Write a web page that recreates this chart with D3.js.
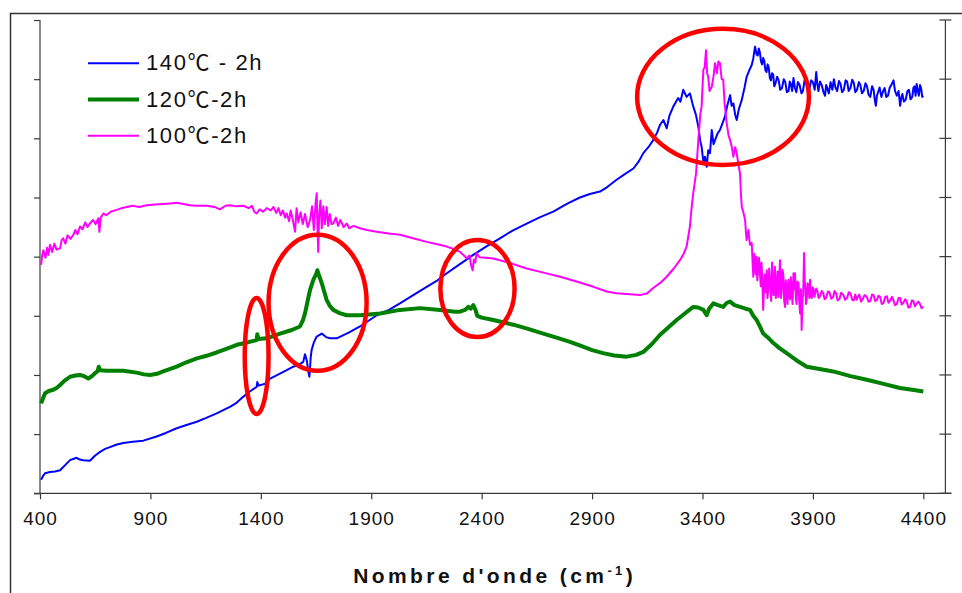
<!DOCTYPE html>
<html><head><meta charset="utf-8">
<script src="https://cdn.jsdelivr.net/npm/d3@7"></script>
<style>html,body{margin:0;padding:0;background:#fff;}svg{display:block;}</style>
</head><body>
<svg id="c" width="962" height="593"></svg>
<script>
// ---- data (wavenumber cm-1, relative intensity in arbitrary units) ----
const xTicks = [400, 900, 1400, 1900, 2400, 2900, 3400, 3900, 4400];
const yTicks = [0, 1, 2, 3, 4, 5, 6, 7, 8];
const seriesNames = ["140\u2103 - 2h", "120\u2103-2h", "100\u2103-2h"];
const seriesColors = ["#0000ff", "#008000", "#ff00ff"];

const blue140 = [[405,0.23],[415,0.30],[423,0.34],[445,0.36],[468,0.37],[491,0.39],[515,0.48],[536,0.56],[550,0.58],[566,0.60],[580,0.57],[596,0.56],[626,0.55],[650,0.64],[672,0.70],[695,0.75],[717,0.78],[745,0.82],[777,0.85],[820,0.87],[868,0.89],[928,0.96],[970,1.02],[1019,1.10],[1060,1.15],[1110,1.21],[1150,1.27],[1200,1.35],[1260,1.46],[1290,1.53],[1320,1.63],[1350,1.72],[1381,1.80],[1384,1.88],[1390,1.82],[1427,1.86],[1442,1.94],[1500,2.05],[1547,2.14],[1575,2.18],[1592,2.22],[1600,2.35],[1608,2.25],[1614,2.08],[1620,1.97],[1626,2.30],[1630,2.42],[1640,2.55],[1653,2.65],[1676,2.70],[1695,2.64],[1713,2.62],[1744,2.62],[1800,2.72],[1849,2.82],[1925,3.01],[1980,3.10],[2030,3.21],[2090,3.35],[2151,3.49],[2200,3.60],[2242,3.72],[2300,3.87],[2362,4.03],[2420,4.17],[2483,4.31],[2540,4.44],[2604,4.56],[2660,4.66],[2724,4.76],[2790,4.90],[2845,5.00],[2890,5.06],[2936,5.10],[2970,5.18],[3011,5.30],[3050,5.40],[3087,5.49],[3110,5.60],[3132,5.75],[3155,5.85],[3177,5.97],[3195,6.10],[3208,6.23],[3223,6.31],[3238,6.17],[3250,6.38],[3268,6.54],[3290,6.68],[3300,6.62],[3313,6.82],[3328,6.70],[3343,6.76],[3358,6.54],[3370,6.40],[3381,6.20],[3390,5.95],[3396,5.86],[3404,5.60],[3411,5.69],[3419,5.52],[3426,5.80],[3434,5.75],[3442,6.14],[3450,5.90],[3457,5.97],[3468,6.08],[3479,6.14],[3490,6.25],[3502,6.37],[3512,6.55],[3525,6.73],[3532,6.55],[3540,6.59],[3548,6.40],[3555,6.31],[3565,6.50],[3578,6.65],[3590,6.85],[3600,7.04],[3612,7.15],[3623,7.24],[3630,7.35],[3638,7.55],[3645,7.42],[3650,7.40],[3655,7.52],[3660,7.45],[3665,7.30],[3670,7.25],[3675,7.36],[3680,7.30],[3685,7.15],[3690,7.12],[3695,7.25],[3700,7.20],[3705,7.02],[3710,6.98],[3715,7.10],[3720,7.08],[3725,6.88],[3730,6.92],[3738,7.04],[3745,6.98],[3752,6.82],[3760,6.85],[3768,7.00],[3775,6.95],[3782,6.78],[3790,6.80],[3795,6.96],[3800,6.92],[3806,6.80],[3812,7.02],[3818,6.86],[3825,6.78],[3832,6.95],[3840,6.90],[3848,6.76],[3855,6.80],[3862,6.98],[3870,6.95],[3877,6.78],[3885,6.85],[3892,6.98],[3900,6.95],[3908,6.82],[3915,7.12],[3920,6.92],[3925,6.80],[3932,6.96],[3940,6.90],[3948,6.78],[3955,6.72],[3960,6.90],[3965,6.85],[3972,6.76],[3980,6.95],[3988,6.82],[3995,7.00],[4002,6.86],[4010,6.80],[4018,6.97],[4025,6.92],[4032,6.78],[4040,6.82],[4048,6.98],[4055,6.96],[4062,6.80],[4070,6.85],[4078,6.99],[4085,6.94],[4092,6.78],[4100,6.82],[4108,6.95],[4115,6.90],[4122,6.76],[4130,6.80],[4138,6.93],[4145,6.88],[4152,6.74],[4160,6.70],[4168,6.88],[4175,6.82],[4180,6.66],[4185,6.55],[4190,6.72],[4195,6.78],[4202,6.86],[4210,6.70],[4218,6.80],[4225,6.85],[4232,6.70],[4240,6.72],[4248,6.86],[4255,6.90],[4265,6.98],[4272,6.80],[4280,6.72],[4288,6.80],[4295,6.55],[4300,6.68],[4305,6.75],[4312,6.62],[4320,6.65],[4328,6.80],[4335,6.82],[4342,6.66],[4350,6.70],[4355,6.85],[4360,6.88],[4365,6.72],[4370,6.92],[4375,6.80],[4380,6.72],[4385,6.90],[4390,6.85],[4395,6.70],[4400,6.72]];

const green120 = [[405,1.52],[415,1.62],[423,1.69],[440,1.73],[460,1.75],[475,1.78],[491,1.83],[510,1.90],[536,1.97],[560,1.99],[581,2.00],[600,1.98],[619,1.94],[635,1.98],[649,2.03],[660,2.06],[666,2.14],[672,2.08],[702,2.07],[740,2.07],[777,2.07],[838,2.04],[870,2.01],[898,2.00],[930,2.02],[958,2.06],[1019,2.14],[1060,2.21],[1110,2.28],[1150,2.32],[1200,2.38],[1250,2.45],[1291,2.51],[1340,2.55],[1381,2.59],[1384,2.69],[1388,2.61],[1427,2.62],[1487,2.70],[1540,2.76],[1577,2.82],[1590,2.92],[1600,3.04],[1612,3.25],[1623,3.44],[1638,3.61],[1650,3.70],[1656,3.77],[1662,3.70],[1676,3.55],[1698,3.27],[1712,3.17],[1728,3.10],[1760,3.04],[1789,3.01],[1849,3.01],[1940,3.04],[2030,3.10],[2121,3.13],[2211,3.10],[2280,3.07],[2302,3.07],[2325,3.10],[2339,3.15],[2350,3.12],[2362,3.18],[2372,3.10],[2380,3.00],[2400,2.97],[2453,2.93],[2543,2.85],[2610,2.78],[2679,2.70],[2750,2.62],[2800,2.56],[2850,2.49],[2900,2.42],[2950,2.37],[3000,2.33],[3057,2.31],[3100,2.34],[3132,2.39],[3170,2.52],[3208,2.68],[3250,2.82],[3283,2.93],[3320,3.04],[3358,3.15],[3380,3.14],[3404,3.10],[3419,3.01],[3430,3.12],[3449,3.21],[3470,3.18],[3494,3.15],[3510,3.22],[3525,3.24],[3545,3.18],[3570,3.15],[3595,3.12],[3615,3.10],[3630,3.00],[3645,2.93],[3660,2.82],[3675,2.70],[3700,2.62],[3721,2.54],[3750,2.45],[3781,2.37],[3825,2.25],[3872,2.14],[3930,2.10],[3992,2.06],[4070,1.98],[4144,1.92],[4220,1.85],[4294,1.78],[4350,1.75],[4400,1.72]];

const magenta100 = [[405,3.86],[410,4.02],[415,4.11],[425,3.98],[432,4.15],[438,4.03],[445,4.20],[455,4.08],[465,4.22],[475,4.12],[491,4.14],[498,4.28],[505,4.31],[515,4.22],[525,4.36],[538,4.30],[551,4.37],[560,4.45],[570,4.38],[581,4.51],[592,4.46],[605,4.58],[615,4.50],[626,4.56],[640,4.62],[652,4.55],[664,4.65],[669,4.42],[675,4.66],[687,4.73],[700,4.70],[720,4.76],[747,4.79],[770,4.82],[793,4.84],[820,4.86],[850,4.84],[883,4.87],[920,4.88],[958,4.89],[990,4.90],[1019,4.91],[1050,4.89],[1079,4.87],[1110,4.86],[1155,4.86],[1190,4.84],[1215,4.80],[1240,4.86],[1260,4.87],[1290,4.85],[1321,4.86],[1345,4.82],[1360,4.86],[1370,4.76],[1381,4.73],[1395,4.80],[1410,4.76],[1427,4.82],[1445,4.78],[1457,4.84],[1470,4.74],[1480,4.82],[1490,4.70],[1500,4.78],[1510,4.66],[1517,4.73],[1528,4.60],[1535,4.78],[1545,4.62],[1555,4.42],[1562,4.82],[1570,4.58],[1580,4.75],[1590,4.55],[1600,4.72],[1612,4.50],[1623,4.62],[1632,4.85],[1640,4.45],[1648,4.90],[1653,5.07],[1656,4.55],[1660,4.08],[1664,4.70],[1670,4.95],[1676,4.48],[1683,4.85],[1690,4.55],[1698,4.84],[1705,4.52],[1712,4.72],[1720,4.55],[1728,4.56],[1740,4.66],[1750,4.52],[1760,4.62],[1775,4.50],[1789,4.56],[1800,4.48],[1820,4.52],[1849,4.48],[1880,4.45],[1925,4.42],[1980,4.39],[2030,4.37],[2090,4.31],[2151,4.25],[2200,4.21],[2242,4.17],[2280,4.12],[2302,4.08],[2320,4.02],[2332,3.97],[2345,4.02],[2352,3.85],[2359,3.77],[2365,3.95],[2371,3.90],[2377,4.06],[2390,3.99],[2420,3.98],[2453,3.97],[2530,3.89],[2604,3.80],[2680,3.73],[2755,3.66],[2830,3.58],[2906,3.49],[2966,3.41],[3010,3.38],[3057,3.37],[3117,3.35],[3150,3.38],[3177,3.47],[3210,3.56],[3238,3.66],[3270,3.80],[3298,3.94],[3315,4.05],[3328,4.17],[3343,4.51],[3350,4.80],[3358,5.07],[3371,5.41],[3381,5.97],[3390,6.40],[3396,6.54],[3404,7.16],[3410,7.20],[3416,7.49],[3421,7.10],[3426,7.04],[3432,6.80],[3442,6.87],[3450,7.05],[3457,7.27],[3465,7.10],[3472,7.30],[3479,7.27],[3487,7.00],[3494,6.99],[3500,6.60],[3510,6.25],[3518,6.05],[3525,5.97],[3533,5.85],[3540,5.69],[3548,5.85],[3555,5.75],[3563,5.55],[3570,5.41],[3575,5.00],[3578,4.84],[3585,4.75],[3593,4.62],[3597,4.40],[3600,4.28],[3608,4.45],[3615,4.20],[3623,4.23],[3627,3.90],[3630,3.66],[3634,4.05],[3637,3.95],[3641,3.70],[3645,4.00],[3648,3.60],[3652,3.75],[3656,3.98],[3660,3.72],[3664,3.50],[3667,3.90],[3671,3.60],[3675,3.10],[3679,3.55],[3682,3.70],[3686,3.40],[3691,3.77],[3694,3.30],[3698,3.45],[3702,3.80],[3706,3.55],[3711,3.25],[3715,3.90],[3718,3.60],[3722,3.35],[3725,3.65],[3728,3.83],[3732,3.30],[3736,3.50],[3740,3.75],[3743,3.32],[3747,3.60],[3751,3.94],[3755,3.30],[3758,3.40],[3762,3.78],[3766,3.70],[3770,3.25],[3774,3.15],[3777,3.60],[3781,3.50],[3785,3.20],[3789,3.61],[3792,3.40],[3796,3.28],[3800,3.65],[3804,3.38],[3808,3.20],[3812,3.72],[3816,3.45],[3819,3.72],[3823,3.30],[3826,3.20],[3830,3.58],[3835,3.55],[3838,3.25],[3842,3.04],[3846,3.45],[3849,2.76],[3853,3.30],[3856,3.35],[3860,4.06],[3863,3.60],[3866,3.45],[3869,3.20],[3872,3.27],[3876,3.55],[3880,3.50],[3884,3.30],[3887,3.61],[3891,3.35],[3895,3.30],[3899,3.48],[3903,3.45],[3907,3.32],[3910,3.38],[3915,3.46],[3920,3.42],[3926,3.30],[3932,3.33],[3940,3.42],[3947,3.38],[3953,3.28],[3960,3.30],[3968,3.41],[3975,3.40],[3983,3.29],[3992,3.32],[3998,3.42],[4005,3.38],[4012,3.26],[4020,3.28],[4028,3.39],[4038,3.35],[4046,3.27],[4055,3.30],[4062,3.40],[4070,3.38],[4078,3.27],[4085,3.26],[4092,3.36],[4098,3.27],[4104,3.33],[4110,3.36],[4118,3.24],[4125,3.28],[4134,3.35],[4144,3.32],[4152,3.24],[4160,3.25],[4168,3.36],[4175,3.35],[4182,3.25],[4190,3.27],[4197,3.34],[4204,3.32],[4212,3.20],[4220,3.22],[4228,3.32],[4235,3.33],[4242,3.22],[4250,3.26],[4258,3.32],[4264,3.27],[4272,3.18],[4280,3.20],[4288,3.30],[4295,3.30],[4302,3.19],[4310,3.22],[4318,3.28],[4325,3.24],[4332,3.14],[4340,3.15],[4348,3.26],[4355,3.25],[4362,3.16],[4370,3.21],[4378,3.24],[4385,3.20],[4392,3.13],[4400,3.15]];

// red annotation ellipses: [centre wavenumber, centre value, half-width (cm-1), half-height (units)]
const ellipses = [[1381,2.32,54,0.98],[1657,3.22,222,1.15],[2381,3.46,168,0.82],[3493,6.70,389,1.15]];

// ---- drawing ----
const svg = d3.select("#c");
const FONT = "'Liberation Sans', Arial, 'Noto Sans CJK SC', sans-serif";
const CJK = "'Noto Sans CJK SC', 'Liberation Sans', sans-serif";
const x = d3.scaleLinear().domain([400, 4500]).range([40, 945.4]);
const y = d3.scaleLinear().domain([0, 8]).range([493.3, 20]);
const axisCol = "#3a3a3a";

// outer frame
svg.append("rect").attr("x", 10.5).attr("y", 13.5).attr("width", 1200).attr("height", 1200)
  .attr("fill", "none").attr("stroke", "#333").attr("stroke-width", 1.5);

// left axis
const gl = svg.append("g").attr("transform", `translate(${x(400)},0)`)
  .call(d3.axisLeft(y).tickValues(yTicks).tickSize(6).tickFormat(""));
gl.select(".domain").attr("d", `M0,${y(8)}V${y(0)}`);
// right axis (crossing ticks)
const gr = svg.append("g").attr("transform", `translate(${x(4500)},0)`);
gr.append("line").attr("x1", 0).attr("x2", 0).attr("y1", y(8)).attr("y2", y(0)).attr("stroke", axisCol);
gr.selectAll("line.t").data(yTicks).join("line").attr("class", "t")
  .attr("x1", -6).attr("x2", 6).attr("y1", d => y(d)).attr("y2", d => y(d)).attr("stroke", axisCol);
// bottom axis
const gb = svg.append("g").attr("transform", `translate(0,${y(0)})`)
  .call(d3.axisBottom(x).tickValues(xTicks).tickSize(6).tickPadding(12).tickFormat(d3.format("d")));
gb.select(".domain").attr("d", `M${x(400)-6},0H${x(4500)+6}`);
[gl, gb].forEach(g => { g.selectAll(".domain, .tick line").attr("stroke", axisCol).attr("stroke-width", 1.2); });
gr.selectAll("line").attr("stroke-width", 1.2);
gb.selectAll("text").attr("font-family", FONT).attr("font-size", 19).attr("fill", "#111")
  .attr("letter-spacing", "1px");

// series
const line = d3.line().x(d => x(d[0])).y(d => y(d[1]));
const series = [blue140, green120, magenta100];
const widths = [2, 4, 2];
series.forEach((s, i) => {
  svg.append("path").datum(s).attr("d", line).attr("fill", "none")
    .attr("stroke", seriesColors[i]).attr("stroke-width", widths[i]).attr("stroke-linejoin", "round");
});

// annotation ellipses
svg.selectAll("ellipse.ann").data(ellipses).join("ellipse").attr("class", "ann")
  .attr("cx", d => x(d[0])).attr("cy", d => y(d[1]))
  .attr("rx", d => x(d[0] + d[2]) - x(d[0])).attr("ry", d => y(d[1] - d[3]) - y(d[1]))
  .attr("fill", "none").attr("stroke", "#ff0000").attr("stroke-width", 4.5);

// legend
const lg = svg.append("g");
seriesNames.forEach((n, i) => {
  const ly = 63.3 + i * 36.2;
  lg.append("line").attr("x1", 88).attr("x2", 139).attr("y1", ly).attr("y2", ly)
    .attr("stroke", seriesColors[i]).attr("stroke-width", widths[i]);
  const tx = lg.append("text").attr("x", 146).attr("y", ly + 7)
    .attr("font-family", FONT).attr("font-size", 22).attr("fill", "#111").attr("letter-spacing", "1.6px");
  const parts = n.split("\u2103");
  tx.append("tspan").text(parts[0]);
  tx.append("tspan").attr("font-family", CJK).text("\u2103");
  tx.append("tspan").text(parts[1]);
});

// x axis title
const t = svg.append("text").attr("x", (x(400) + x(4500)) / 2 + 2).attr("y", 583).attr("text-anchor", "middle")
  .attr("font-family", FONT).attr("font-size", 21).attr("font-weight", "bold").attr("fill", "#111")
  .attr("letter-spacing", "3.4px");
t.append("tspan").text("Nombre d'onde (cm");
t.append("tspan").attr("dy", -8).attr("font-size", 13).text("-1");
t.append("tspan").attr("dy", 8).text(")");
</script>
</body></html>
